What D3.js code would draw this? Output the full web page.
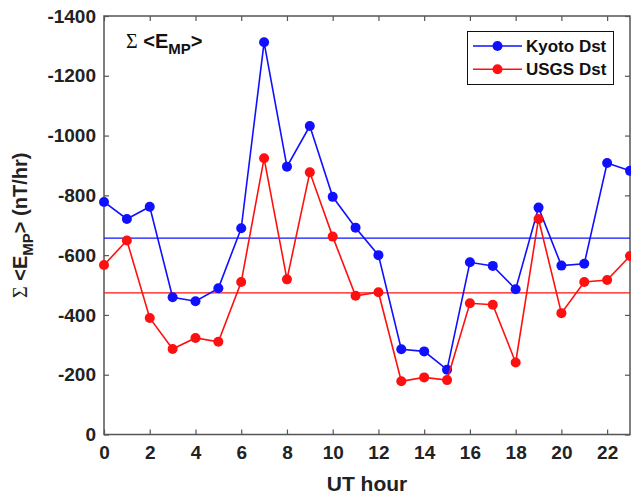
<!DOCTYPE html>
<html><head><meta charset="utf-8">
<script src="https://cdn.jsdelivr.net/npm/d3@7"></script>
<style>body{margin:0;background:#fff}svg{display:block}text{font-family:Arial,"Liberation Sans",sans-serif}</style>
</head><body>
<script>
const hours = d3.range(0, 24);
const kyotoDst = [-778,-721,-762,-459,-446,-489,-690,-1312,-896,-1032,-795,-692,-600,-285,-278,-217,-576,-564,-486,-759,-565,-571,-908,-882];
const usgsDst = [-567,-649,-390,-286,-323,-310,-510,-924,-519,-877,-662,-464,-476,-178,-191,-182,-439,-434,-241,-721,-406,-510,-517,-597];
const xTicks = [0,2,4,6,8,10,12,14,16,18,20,22];
const yTicks = [0,-200,-400,-600,-800,-1000,-1200,-1400];
const seriesNames = ["Kyoto Dst","USGS Dst"];
const seriesColors = ["#1010ff","#ff1010"];

const W = 631, H = 494;
const m = {left:104, right:630, top:16, bottom:434.5};
const svg = d3.select("body").append("svg").attr("width",W).attr("height",H);
const x = d3.scaleLinear().domain([0,23]).range([m.left,m.right]);
const y = d3.scaleLinear().domain([0,-1400]).range([m.bottom,m.top]);
const axisColor = "#555";

// frame
svg.append("rect").attr("x",m.left).attr("y",m.top).attr("width",m.right-m.left).attr("height",m.bottom-m.top)
  .attr("fill","none").attr("stroke",axisColor).attr("stroke-width",1.5);

function styleAxis(g, showText){
  g.select(".domain").remove();
  g.selectAll(".tick line").attr("stroke",axisColor).attr("stroke-width",1.2);
  g.selectAll(".tick text").attr("fill","#222").style("font-size","19px").style("font-weight","bold");
  if(!showText) g.selectAll(".tick text").remove();
}
svg.append("g").attr("transform",`translate(0,${m.bottom})`)
  .call(d3.axisBottom(x).tickValues(xTicks).tickSizeInner(-5).tickSizeOuter(0).tickPadding(11).tickFormat(d3.format("d")))
  .call(g=>styleAxis(g,true));
svg.append("g").attr("transform",`translate(0,${m.top})`)
  .call(d3.axisTop(x).tickValues(xTicks).tickSizeInner(-5).tickSizeOuter(0))
  .call(g=>styleAxis(g,false));
svg.append("g").attr("transform",`translate(${m.left},0)`)
  .call(d3.axisLeft(y).tickValues(yTicks).tickSizeInner(-5).tickSizeOuter(0).tickPadding(8).tickFormat(d=>d===0?"0":String(d)))
  .call(g=>styleAxis(g,true));
svg.append("g").attr("transform",`translate(${m.right},0)`)
  .call(d3.axisRight(y).tickValues(yTicks).tickSizeInner(-5).tickSizeOuter(0))
  .call(g=>styleAxis(g,false));

const seriesData = [kyotoDst, usgsDst];
const plot = svg.append("g");
seriesData.forEach((vals,i)=>{
  const mean = d3.mean(vals);
  plot.append("line").attr("x1",m.left).attr("x2",m.right).attr("y1",y(mean)).attr("y2",y(mean))
    .attr("stroke",seriesColors[i]).attr("stroke-width",1.3);
});
seriesData.forEach((vals,i)=>{
  const line = d3.line().x((d,j)=>x(hours[j])).y(d=>y(d));
  plot.append("path").datum(vals).attr("d",line).attr("fill","none")
    .attr("stroke",seriesColors[i]).attr("stroke-width",1.6);
  plot.selectAll(null).data(vals).enter().append("circle")
    .attr("cx",(d,j)=>x(hours[j])).attr("cy",d=>y(d)).attr("r",5).attr("fill",seriesColors[i]);
});

// annotation
const ann = svg.append("text").attr("x",126).attr("y",48).attr("fill","#111").style("font-size","20px").style("font-weight","bold");
ann.append("tspan").text("Σ").style("font-family","'Liberation Serif','Times New Roman',serif").style("font-weight","normal");
ann.append("tspan").text(" <E");
ann.append("tspan").text("MP").attr("dy",6).style("font-size","15px");
ann.append("tspan").text(">").attr("dy",-6);

// legend
const lg = svg.append("g");
lg.append("rect").attr("x",467.5).attr("y",31.5).attr("width",146).attr("height",53).attr("fill","#fff").attr("stroke","#111").attr("stroke-width",1);
seriesNames.forEach((name,i)=>{
  const yy = 46 + i*23.3;
  lg.append("line").attr("x1",473).attr("x2",522).attr("y1",yy).attr("y2",yy).attr("stroke",seriesColors[i]).attr("stroke-width",1.6);
  lg.append("circle").attr("cx",497.5).attr("cy",yy).attr("r",5).attr("fill",seriesColors[i]);
  lg.append("text").attr("x",526).attr("y",yy+6).text(name).attr("fill","#111").style("font-size","17px").style("font-weight","bold");
});

// axis labels
svg.append("text").attr("x",(m.left+m.right)/2).attr("y",491).attr("text-anchor","middle")
  .attr("fill","#222").style("font-size","21px").style("font-weight","bold").text("UT hour");
const yl = svg.append("text").attr("transform",`translate(27,${(m.top+m.bottom)/2}) rotate(-90)`).attr("text-anchor","middle")
  .attr("fill","#222").style("font-size","20px").style("font-weight","bold");
yl.append("tspan").text("Σ").style("font-family","'Liberation Serif','Times New Roman',serif").style("font-weight","normal");
yl.append("tspan").text(" <E");
yl.append("tspan").text("MP").attr("dy",6).style("font-size","15px");
yl.append("tspan").text("> (nT/hr)").attr("dy",-6);
</script>
</body></html>
